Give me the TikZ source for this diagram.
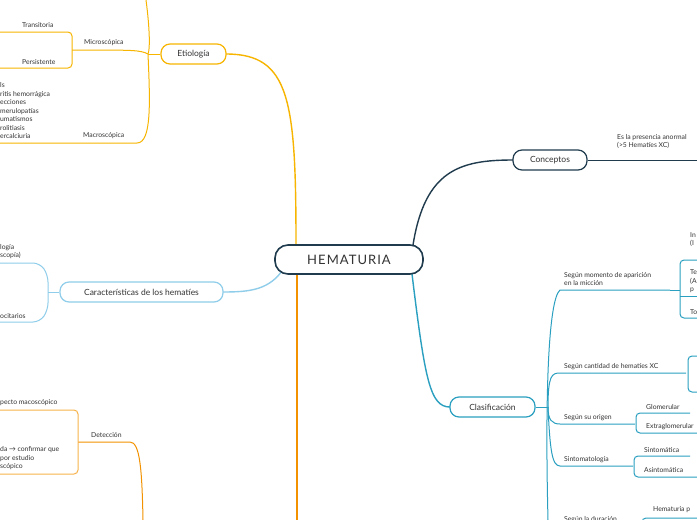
\documentclass[tikz,border=0pt]{standalone}
\usepackage{fontspec}
\setmainfont{Lato}
\newfontfamily\spaced[LetterSpace=8]{Lato}
\definecolor{navy}{HTML}{1F3B4D}
\definecolor{teal}{HTML}{2A9FC0}
\definecolor{yel}{HTML}{F7B500}
\definecolor{ora}{HTML}{F39200}
\definecolor{lblue}{HTML}{8FCDEA}
\definecolor{txt}{HTML}{333333}
\tikzset{
 box/.style={draw,rounded corners=9pt,line width=1.2pt,fill=white,text=txt,inner sep=0pt,minimum height=20pt},
 lbl/.style={text=txt,font=\fontsize{6.8}{8.5}\selectfont,align=left,anchor=south west,inner sep=1pt},
 ln/.style={line width=1pt,rounded corners=6pt},
}
\begin{document}
\begin{tikzpicture}[x=1pt,y=-1pt]
\useasboundingbox (0,0) rectangle (697,520);
\fill[white] (0,0) rectangle (697,520);
% ---- main connectors
\draw[navy,line width=1.4pt] (413,245) .. controls (425,170) and (460,160) .. (513,160);
\draw[teal,line width=1.4pt] (412,274) .. controls (425,380) and (430,407) .. (450,407);
\draw[yel,line width=1.4pt] (296,245) .. controls (296,100) and (290,54) .. (226,54);
\draw[lblue,line width=1.4pt] (284,268) .. controls (270,290) and (250,292) .. (223,292);
\draw[ora,line width=1.4pt] (297,274) -- (297,520);
% ---- central
\node[box,draw=navy,line width=1.6pt,minimum width=148pt,minimum height=29pt,rounded corners=13pt,font=\fontsize{13}{15}\selectfont\spaced] (c) at (349,259.5) {HEMATURIA};
% Conceptos
\node[box,draw=navy,minimum width=74pt,font=\fontsize{8.5}{10}\selectfont] (con) at (550,160) {Conceptos};
\coordinate (conE) at (697,160);
\draw[navy,ln] (con.east) -- (conE);
\node[lbl] at (616,150) {Es la presencia anormal\\ (>5 Hematíes XC)};
% Clasificación
\node[box,draw=teal,minimum width=85pt,font=\fontsize{8.5}{10}\selectfont] (cla) at (492.5,407) {Clasificación};
\draw[teal,line width=1pt] (cla.east) -- (548,407);
\draw[teal,line width=1pt] (548,520) .. controls (545,400) and (548,300) .. (560,290) -- (670,290);
\draw[teal,line width=1pt] (548,407) .. controls (548,375) and (552,373) .. (560,373) -- (686,373);
\draw[teal,line width=1pt] (548,407) .. controls (548,420) and (552,424) .. (560,424) -- (635,424);
\draw[teal,line width=1pt] (548,407) .. controls (550,450) and (552,466) .. (560,466) -- (633,466);
\node[lbl] at (563,287) {Según momento de aparición\\en la micción};
\node[lbl] at (563,371) {Según cantidad de hematíes XC};
\node[lbl] at (563,422) {Según su origen};
\node[lbl] at (563,464) {Sintomatología};
\node[lbl] at (563,524) {Según la duración};
% brackets right
\draw[teal,line width=1pt,rounded corners=4pt] (697,260) -- (680,260) -- (680,318) -- (697,318);
\draw[teal,line width=1pt] (670,290) -- (680,290);
\draw[teal,line width=1pt] (680,296) -- (697,296);
\node[lbl] at (689,248) {In\\(I};
\node[lbl] at (689,294) {Te\\(A\\p};
\node[lbl] at (689,316) {To};
\draw[teal,line width=1pt,rounded corners=4pt] (697,356) -- (688,356) -- (688,392) -- (697,392);
\draw[teal,line width=1pt,rounded corners=4pt] (690,413) -- (636,413) -- (636,433) -- (697,433);
\node[lbl] at (645,411) {Glomerular};
\node[lbl] at (645,431) {Extraglomerular};
\draw[teal,line width=1pt,rounded corners=4pt] (690,456) -- (634,456) -- (634,477) -- (697,477);
\node[lbl] at (643,454) {Sintomática};
\node[lbl] at (643,474) {Asintomática};
\draw[teal,line width=1pt,rounded corners=4pt] (697,518) -- (642,518) -- (642,525);
\node[lbl] at (652,514) {Hematuria p};
% Etiología
\node[box,draw=yel,minimum width=65pt,font=\fontsize{8.5}{10}\selectfont] (eti) at (193.5,54) {Etiología};
\draw[yel,line width=1pt] (eti.west) -- (148,54);
\draw[yel,line width=1pt] (146,0) .. controls (150,30) and (150,50) .. (148,54);
\draw[yel,line width=1pt] (148,54) .. controls (150,100) and (152,143) .. (137,143) -- (0,143);
\draw[yel,line width=1pt] (148,54) .. controls (140,50) and (135,50) .. (72,50);
\node[lbl] at (83,47) {Microscópica};
\node[lbl] at (82,140) {Macroscópica};
\draw[yel,line width=1pt,rounded corners=4pt] (0,32) -- (72,32) -- (72,68) -- (0,68);
\node[lbl] at (21,29) {Transitoria};
\node[lbl] at (21,66) {Persistente};
\node[lbl] at (-1,140) {ls\\ritis hemorrágica\\ecciones\\merulopatías\\umatismos\\rolitiasis\\ercalciuria};
% Características
\node[box,draw=lblue,minimum width=163pt,font=\fontsize{8.5}{10}\selectfont] (car) at (141.5,292) {Características de los hematíes};
\draw[lblue,line width=1pt] (car.west) -- (48,292);
\draw[lblue,line width=1pt,rounded corners=7pt] (0,263) -- (40,263) -- (48,275) -- (48,310) -- (40,322) -- (0,322);
\node[lbl] at (-1,260) {logía\\scopía)};
\node[lbl] at (-1,320) {ocitarios};
% Detección
\draw[ora,line width=1pt] (78,442) -- (130,442) .. controls (140,442) and (142,470) .. (143,520);
\node[lbl] at (90,439) {Detección};
\draw[ora!70,line width=1pt,rounded corners=4pt] (0,410) -- (78,410) -- (78,474) -- (0,474);
\node[lbl] at (-1,407) {pecto macoscópico};
\node[lbl] at (-1,471) {da → confirmar que\\ por estudio\\scópico};
\end{tikzpicture}
\end{document}
